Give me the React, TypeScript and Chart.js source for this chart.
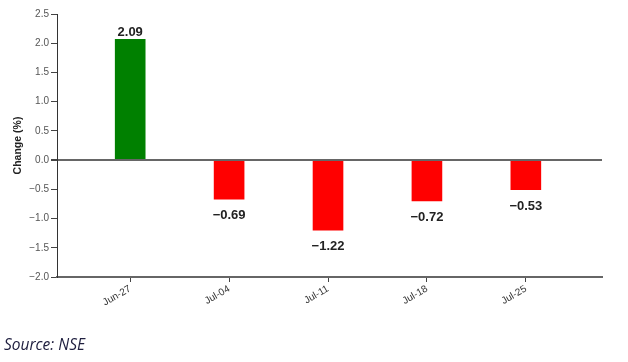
import React, { useEffect, useRef } from "react";
import { Chart, registerables } from "chart.js";

Chart.register(...registerables);

const categories = ["Jun-27", "Jul-04", "Jul-11", "Jul-18", "Jul-25"];
const changeValues = [2.09, -0.69, -1.22, -0.72, -0.53];
const yTickValues = [-2.0, -1.5, -1.0, -0.5, 0.0, 0.5, 1.0, 1.5, 2.0, 2.5];
const sourceText = "Source: NSE";
const yTitle = "Change (%)";

const fmt = (v: number, d: number) => (v < 0 ? "\u2212" + Math.abs(v).toFixed(d) : v.toFixed(d));

const labelPlugin = {
  id: "valueLabels",
  afterDatasetsDraw(chart: any) {
    const ctx = chart.ctx;
    const meta = chart.getDatasetMeta(0);
    ctx.save();
    ctx.font = "bold 13px 'Liberation Sans', Arial, sans-serif";
    ctx.fillStyle = "#222";
    ctx.textAlign = "center";
    meta.data.forEach((bar: any, i: number) => {
      const v = changeValues[i];
      if (v >= 0) {
        ctx.textBaseline = "bottom";
        ctx.fillText(fmt(v, 2), bar.x, bar.y + 1);
      } else {
        ctx.textBaseline = "middle";
        ctx.fillText(fmt(v, 2), bar.x, bar.y + 15);
      }
    });
    ctx.restore();
  },
  afterDraw(chart: any) {
    const ctx = chart.ctx;
    ctx.save();
    ctx.font = "italic 15.5px 'Open Sans', sans-serif";
    ctx.fillStyle = "#202040";
    ctx.textAlign = "left";
    ctx.textBaseline = "alphabetic";
    ctx.fillText(sourceText, 4, 350);
    ctx.restore();
  },
};

export default function App() {
  const ref = useRef<HTMLCanvasElement>(null);
  useEffect(() => {
    if (!ref.current) return;
    const chart = new Chart(ref.current, {
      type: "bar",
      data: {
        datasets: [
          {
            data: changeValues.map((v, i) => ({ x: i, y: v })),
            backgroundColor: changeValues.map((v) => (v >= 0 ? "#008000" : "#ff0000")),
            borderColor: "rgba(255,255,255,0.35)",
            borderWidth: 1,
            barPercentage: 0.33,
            categoryPercentage: 1,
          },
        ],
      },
      options: {
        responsive: false,
        animation: false,
        layout: { padding: { left: 0, right: 26, top: 14, bottom: 0 } },
        plugins: { legend: { display: false }, tooltip: { enabled: false } },
        scales: {
          x: {
            type: "linear",
            offset: false,
            min: -0.74,
            max: 4.77,
            afterBuildTicks: (s: any) => {
              s.ticks = categories.map((_, i) => ({ value: i }));
            },
            afterFit: (s: any) => {
              s.height = 85;
            },
            ticks: {
              autoSkip: false,
              minRotation: 30,
              maxRotation: 30,
              padding: 1,
              color: "#333",
              font: { family: "'Liberation Sans', Arial, sans-serif", size: 10 },
              callback: (v: any) => categories[Math.round(v)] ?? "",
            },
            grid: { offset: false, drawOnChartArea: false, tickLength: 5, tickColor: "#444" },
            border: { color: "#666", width: 2 },
          },
          y: {
            min: -2,
            max: 2.5,
            afterBuildTicks: (s: any) => {
              s.ticks = yTickValues.map((v) => ({ value: v }));
            },
            afterFit: (s: any) => {
              s.width = 57;
            },
            ticks: {
              padding: 2,
              color: "#555",
              font: { family: "'Liberation Sans', Arial, sans-serif", size: 10 },
              callback: (v: any) => fmt(Number(v), 1),
            },
            grid: {
              color: (c: any) => (c.tick && c.tick.value === 0 ? "#666" : "rgba(0,0,0,0)"),
              lineWidth: (c: any) => (c.tick && c.tick.value === 0 ? 2 : 1),
              tickColor: "#444",
              tickLength: 6,
            },
            border: { color: "#333", width: 1 },
            title: {
              display: true,
              text: yTitle,
              color: "#222",
              font: { family: "'Liberation Sans', Arial, sans-serif", size: 10.5, weight: "bold" },
              padding: { top: 12, bottom: 0 },
            },
          },
        },
      },
      plugins: [labelPlugin],
    } as any);
    return () => chart.destroy();
  }, []);
  return (
    <div style={{ position: "absolute", left: 0, top: 0, width: 628, height: 362, background: "#fff" }}>
      <canvas ref={ref} width={628} height={362} style={{ width: 628, height: 362 }} />
    </div>
  );
}
